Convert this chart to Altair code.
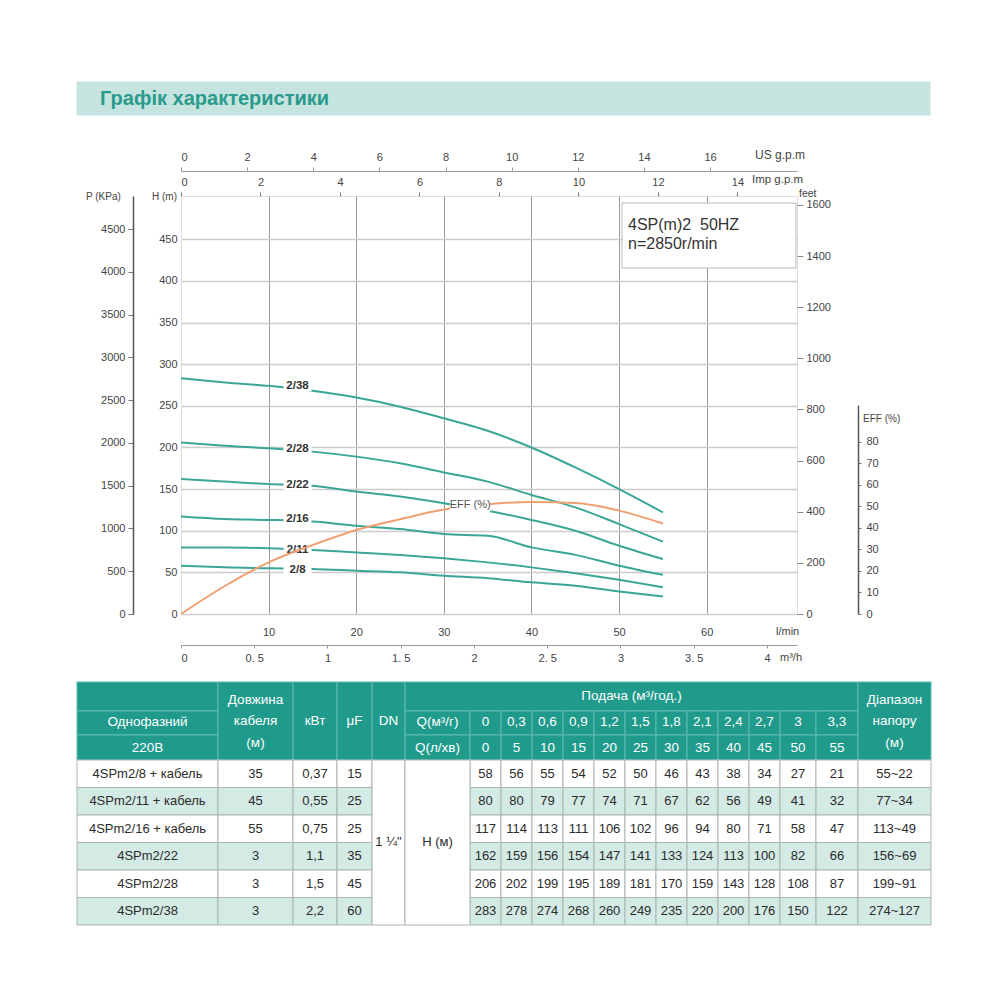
import altair as alt
import pandas as pd

# ---------------- data ----------------
models = ["4SPm2/8 + кабель", "4SPm2/11 + кабель", "4SPm2/16 + кабель",
          "4SPm2/22", "4SPm2/28", "4SPm2/38"]
curve_names = ["2/8", "2/11", "2/16", "2/22", "2/28", "2/38"]
cable_len = ["35", "45", "55", "3", "3", "3"]
power_kw = ["0,37", "0,55", "0,75", "1,1", "1,5", "2,2"]
capacitor_uf = ["15", "25", "25", "35", "45", "60"]
flow_m3h_labels = ["0", "0,3", "0,6", "0,9", "1,2", "1,5", "1,8", "2,1", "2,4", "2,7", "3", "3,3"]
flow_lmin = [0, 5, 10, 15, 20, 25, 30, 35, 40, 45, 50, 55]
head_2_8 = [58, 56, 55, 54, 52, 50, 46, 43, 38, 34, 27, 21]
head_2_11 = [80, 80, 79, 77, 74, 71, 67, 62, 56, 49, 41, 32]
head_2_16 = [117, 114, 113, 111, 106, 102, 96, 94, 80, 71, 58, 47]
head_2_22 = [162, 159, 156, 154, 147, 141, 133, 124, 113, 100, 82, 66]
head_2_28 = [206, 202, 199, 195, 189, 181, 170, 159, 143, 128, 108, 87]
head_2_38 = [283, 278, 274, 268, 260, 249, 235, 220, 200, 176, 150, 122]
heads = [head_2_8, head_2_11, head_2_16, head_2_22, head_2_28, head_2_38]
head_range = ["55~22", "77~34", "113~49", "156~69", "199~91", "274~127"]
eff_pct = [0, 13, 24, 32, 39, 44, 48.5, 51, 52, 51.5, 48, 42]
label_q = [13.3, 13.3, 13.3, 13.3, 13.3, 13.3]
label_h = [53, 77, 114, 155, 198, 274]
eff_label_q = [33]
eff_label_v = [50.5]
dn_text = "1 ¼\""
h_text = "H (м)"

# ---------------- layout ----------------
PL, PT, PW, PH = 181, 196, 616, 418
FONT = "Liberation Sans Narrow, Liberation Sans, Arial, sans-serif"
FONT2 = "Liberation Sans, Arial, sans-serif"
TEAL = "#1f9a8b"
HDR_LINE = "#5fbcb0"
LIGHT = "#d3eae5"
BODY_LINE = "#a9b5b3"
CURVE = "#3aa796"
ORANGE = "#f0a070"
AX = "#444444"

col_edges = [77, 218, 293, 337, 372, 405, 470, 501, 532, 563, 594, 625, 656,
             687, 718, 749, 780, 816, 858, 931]
hdr_rows = [682, 711, 735, 760]
body_edges = [760, 787.5, 815, 842.5, 870, 897.5, 925]

cx = alt.Scale(domain=[0, 1000], range=[-PL, 1000 - PL], nice=False, zero=False)
cy = alt.Scale(domain=[0, 1000], range=[-PT, 1000 - PT], nice=False, zero=False)

rects = []


def R(x, x2, y, y2, fill, stroke):
    rects.append(dict(x=x, x2=x2, y=y, y2=y2, fill=fill, stroke=stroke))


# banner
R(77, 930, 82, 115, "#c6e4df", "#c6e4df")
# spec box
R(622, 796, 203, 268, "white", "#bbbbbb")
# header
for i in range(3):
    R(77, 218, hdr_rows[i], hdr_rows[i + 1], TEAL, HDR_LINE)
for c in [1, 2, 3, 4]:
    R(col_edges[c], col_edges[c + 1], 682, 760, TEAL, HDR_LINE)
R(405, 858, 682, 711, TEAL, HDR_LINE)
for r in [1, 2]:
    for c in range(5, 18):
        R(col_edges[c], col_edges[c + 1], hdr_rows[r], hdr_rows[r + 1], TEAL, HDR_LINE)
R(858, 931, 682, 760, TEAL, HDR_LINE)
# body
for i in range(6):
    fill = "white" if i % 2 == 0 else LIGHT
    y, y2 = body_edges[i], body_edges[i + 1]
    for c in [0, 1, 2, 3] + list(range(6, 19)):
        R(col_edges[c], col_edges[c + 1], y, y2, fill, BODY_LINE)
R(372, 405, 760, 925, "white", BODY_LINE)
R(405, 470, 760, 925, "white", BODY_LINE)
rect_df = pd.DataFrame(rects)

texts = []


def T(x, y, text, color, size):
    texts.append(dict(x=x, y=y, text=text, color=color, size=size))


def cc(c):
    return (col_edges[c] + col_edges[c + 1]) / 2


W = "white"
HS = 13.5
T(cc(0), 722, "Однофазний", W, HS)
T(cc(0), 748, "220В", W, HS)
T(cc(1), 700, "Довжина", W, HS)
T(cc(1), 721, "кабеля", W, HS)
T(cc(1), 743, "(м)", W, HS)
T(cc(2), 721, "кВт", W, HS)
T(cc(3), 721, "μF", W, HS)
T(cc(4), 721, "DN", W, HS)
T((405 + 858) / 2, 696, "Подача (м³/год.)", W, HS)
T(cc(5), 722, "Q(м³/г)", W, HS)
T(cc(5), 748, "Q(л/хв)", W, HS)
for j in range(12):
    T(cc(6 + j), 722, flow_m3h_labels[j], W, HS)
    T(cc(6 + j), 748, str(flow_lmin[j]), W, HS)
T(cc(18), 700, "Діапазон", W, HS)
T(cc(18), 721, "напору", W, HS)
T(cc(18), 743, "(м)", W, HS)
BS = 13
DK = "#2b2b2b"
for i in range(6):
    yc = (body_edges[i] + body_edges[i + 1]) / 2
    T(cc(0), yc, models[i], DK, BS)
    T(cc(1), yc, cable_len[i], DK, BS)
    T(cc(2), yc, power_kw[i], DK, BS)
    T(cc(3), yc, capacitor_uf[i], DK, BS)
    for j in range(12):
        T(cc(6 + j), yc, str(heads[i][j]), DK, BS)
    T(cc(18), yc, head_range[i], DK, BS)
T(cc(4), 842, dn_text, DK, BS)
T(cc(5), 842, h_text, DK, BS)
text_df = pd.DataFrame(texts)

ltexts = []


def L(x, y, text, size, color=AX):
    ltexts.append(dict(x=x, y=y, text=text, size=size, color=color))


L(86, 197, "P (KPa)", 10)
L(152, 197, "H (m)", 10)
L(799, 194, "feet", 10.5)
L(755, 155, "US g.p.m", 12)
L(752, 180, "Imp g.p.m", 11.5)
L(776, 632, "l/min", 11)
L(780, 658, "m³/h", 11)
L(863, 419, "EFF (%)", 10)
ltext_df = pd.DataFrame(ltexts)

spec_df = pd.DataFrame({"x": [628, 628], "y": [225, 244],
                        "text": ["4SP(m)2\u00a0\u00a050HZ", "n=2850r/min"]})
title_df = pd.DataFrame({"x": [100], "y": [99], "text": ["Графік характеристики"]})

# ---------------- canvas layers ----------------
canvas_rect = alt.Chart(rect_df).mark_rect(strokeWidth=1).encode(
    x=alt.X("x:Q", scale=cx, axis=None),
    x2="x2:Q",
    y=alt.Y("y:Q", scale=cy, axis=None),
    y2="y2:Q",
    fill=alt.Fill("fill:N", scale=None),
    stroke=alt.Stroke("stroke:N", scale=None),
)
canvas_text = alt.Chart(text_df).mark_text(align="center", baseline="middle", font=FONT2).encode(
    x=alt.X("x:Q", scale=cx, axis=None),
    y=alt.Y("y:Q", scale=cy, axis=None),
    text="text:N",
    color=alt.Color("color:N", scale=None),
    size=alt.Size("size:Q", scale=None),
)
canvas_ltext = alt.Chart(ltext_df).mark_text(align="left", baseline="middle", font=FONT).encode(
    x=alt.X("x:Q", scale=cx, axis=None),
    y=alt.Y("y:Q", scale=cy, axis=None),
    text="text:N",
    color=alt.Color("color:N", scale=None),
    size=alt.Size("size:Q", scale=None),
)
canvas_spec = alt.Chart(spec_df).mark_text(
    align="left", baseline="middle", font=FONT2, fontSize=16, color="#333333"
).encode(
    x=alt.X("x:Q", scale=cx, axis=None),
    y=alt.Y("y:Q", scale=cy, axis=None),
    text="text:N",
)
canvas_title = alt.Chart(title_df).mark_text(
    align="left", baseline="middle", font=FONT, fontWeight="bold", fontSize=20, color="#2a9a8c"
).encode(
    x=alt.X("x:Q", scale=cx, axis=None),
    y=alt.Y("y:Q", scale=cy, axis=None),
    text="text:N",
)

# ---------------- plot layers ----------------
lab = dict(labelFont=FONT, labelFontSize=11, labelColor=AX, title="")


def qscale():
    return alt.Scale(domain=[0, 70.3], nice=False, zero=False)


def hscale():
    return alt.Scale(domain=[0, 502], nice=False, zero=False)


def escale():
    return alt.Scale(domain=[0, 97], range=[PH, PH - 97 * 2.154], nice=False, zero=False)


curve_rows = []
for name, hs in zip(curve_names, heads):
    for q, h in zip(flow_lmin, hs):
        curve_rows.append(dict(model=name, q=q, h=h))
curve_df = pd.DataFrame(curve_rows)

axis_lmin = alt.Axis(orient="bottom", values=[10, 20, 30, 40, 50, 60], grid=True,
                     gridColor="#9a9a9a", gridWidth=1, domain=False, ticks=False,
                     tickSize=0, labelPadding=12, format="d", **lab)
axis_h = alt.Axis(orient="left", values=list(range(0, 451, 50)), grid=True,
                  gridColor="#cccccc", gridWidth=1.5, domain=False, ticks=False,
                  tickSize=0, labelPadding=4, format="d", **lab)

curves = alt.Chart(curve_df).mark_line(interpolate="monotone", strokeWidth=2, color=CURVE).encode(
    x=alt.X("q:Q", scale=qscale(), axis=axis_lmin),
    y=alt.Y("h:Q", scale=hscale(), axis=axis_h),
    detail="model:N",
)

lbl_df = pd.DataFrame({"q": label_q, "h": label_h, "name": curve_names})
lbl_bg = alt.Chart(lbl_df).mark_point(
    shape="M-1,-0.4L1,-0.4L1,0.4L-1,0.4Z", filled=True, fill="white", opacity=1,
    size=28 * 28, strokeWidth=0
).encode(
    x=alt.X("q:Q", scale=qscale(), axis=None),
    y=alt.Y("h:Q", scale=hscale(), axis=None),
)
lbl_txt = alt.Chart(lbl_df).mark_text(font=FONT2, fontSize=11.5, fontWeight="bold", color="#333333").encode(
    x=alt.X("q:Q", scale=qscale(), axis=None),
    y=alt.Y("h:Q", scale=hscale(), axis=None),
    text="name:N",
)

eff_df = pd.DataFrame({"q": flow_lmin, "e": eff_pct})
axis_eff = alt.Axis(orient="right", offset=61, values=list(range(0, 81, 10)), domain=True,
                    domainColor="#555555", domainWidth=1.5, ticks=True, tickSize=3,
                    tickColor="#777777", labelPadding=5, format="d", **lab)
eff_line = alt.Chart(eff_df).mark_line(interpolate="monotone", strokeWidth=2, color=ORANGE).encode(
    x=alt.X("q:Q", scale=qscale(), axis=None),
    y=alt.Y("e:Q", scale=escale(), axis=axis_eff),
)
eff_lbl_df = pd.DataFrame({"q": eff_label_q, "e": eff_label_v, "t": ["EFF (%)"]})
eff_bg = alt.Chart(eff_lbl_df).mark_point(
    shape="M-1,-0.35L1,-0.35L1,0.35L-1,0.35Z", filled=True, fill="white", opacity=1,
    size=40 * 40, strokeWidth=0
).encode(
    x=alt.X("q:Q", scale=qscale(), axis=None),
    y=alt.Y("e:Q", scale=escale(), axis=None),
)
eff_txt = alt.Chart(eff_lbl_df).mark_text(font=FONT, fontSize=11, color="#555555").encode(
    x=alt.X("q:Q", scale=qscale(), axis=None),
    y=alt.Y("e:Q", scale=escale(), axis=None),
    text="t:N",
)

# secondary axes (unit conversions of the same flow / head range)
p_df = pd.DataFrame({"p": [0, 4886]})
axis_p = alt.Axis(orient="left", offset=48, values=list(range(0, 4501, 500)), domain=True,
                  domainColor="#555555", domainWidth=1.5, ticks=True, tickSize=5,
                  tickColor="#777777", labelPadding=3, format="d", **lab)
p_layer = alt.Chart(p_df).mark_point(opacity=0).encode(
    y=alt.Y("p:Q", scale=alt.Scale(domain=[0, 4886], nice=False, zero=False), axis=axis_p)
)

ft_df = pd.DataFrame({"ft": [0, 1635]})
axis_ft = alt.Axis(orient="right", values=list(range(0, 1601, 200)), domain=False, ticks=True,
                   tickSize=6, tickColor="#888888", labelPadding=3, format="d", **lab)
ft_layer = alt.Chart(ft_df).mark_point(opacity=0).encode(
    y=alt.Y("ft:Q", scale=alt.Scale(domain=[0, 1635], nice=False, zero=False), axis=axis_ft)
)

us_df = pd.DataFrame({"us": [0, 18.63]})
axis_us = alt.Axis(orient="top", offset=25, values=list(range(0, 17, 2)), domain=True,
                   domainColor="#999999", ticks=True, tickSize=4, tickColor="#999999",
                   labelPadding=5, format="d", **lab)
us_layer = alt.Chart(us_df).mark_point(opacity=0).encode(
    x=alt.X("us:Q", scale=alt.Scale(domain=[0, 18.63], nice=False, zero=False), axis=axis_us)
)

imp_df = pd.DataFrame({"imp": [0, 15.5]})
axis_imp = alt.Axis(orient="top", values=list(range(0, 15, 2)), domain=False, ticks=True,
                    tickSize=4, tickColor="#777777", labelPadding=5, format="d", **lab)
imp_layer = alt.Chart(imp_df).mark_point(opacity=0).encode(
    x=alt.X("imp:Q", scale=alt.Scale(domain=[0, 15.5], nice=False, zero=False), axis=axis_imp)
)

m3_df = pd.DataFrame({"m3": [0, 4.205]})
axis_m3 = alt.Axis(orient="bottom", offset=31, values=[0, 0.5, 1, 1.5, 2, 2.5, 3, 3.5, 4],
                   domain=True, domainColor="#999999", ticks=True, tickSize=3,
                   tickColor="#999999", labelPadding=4, format=".2~f",
                   labelExpr="replace(datum.label, '.', '. ')", **lab)
m3_layer = alt.Chart(m3_df).mark_point(opacity=0).encode(
    x=alt.X("m3:Q", scale=alt.Scale(domain=[0, 4.205], nice=False, zero=False), axis=axis_m3)
)

chart = alt.layer(
    canvas_rect, canvas_text, canvas_ltext, canvas_spec, canvas_title,
    curves, lbl_bg, lbl_txt, eff_line, eff_bg, eff_txt,
    p_layer, ft_layer, us_layer, imp_layer, m3_layer,
).resolve_scale(x="independent", y="independent").properties(
    width=PW, height=PH,
    autosize=alt.AutoSizeParams(type="none"),
    padding={"left": PL, "top": PT, "right": 1000 - PL - PW, "bottom": 1000 - PT - PH},
).configure_view(stroke="#333333", strokeWidth=2, fill="white").configure(background="white")

chart.save("out.html", embed_options={"renderer": "svg", "actions": False})
